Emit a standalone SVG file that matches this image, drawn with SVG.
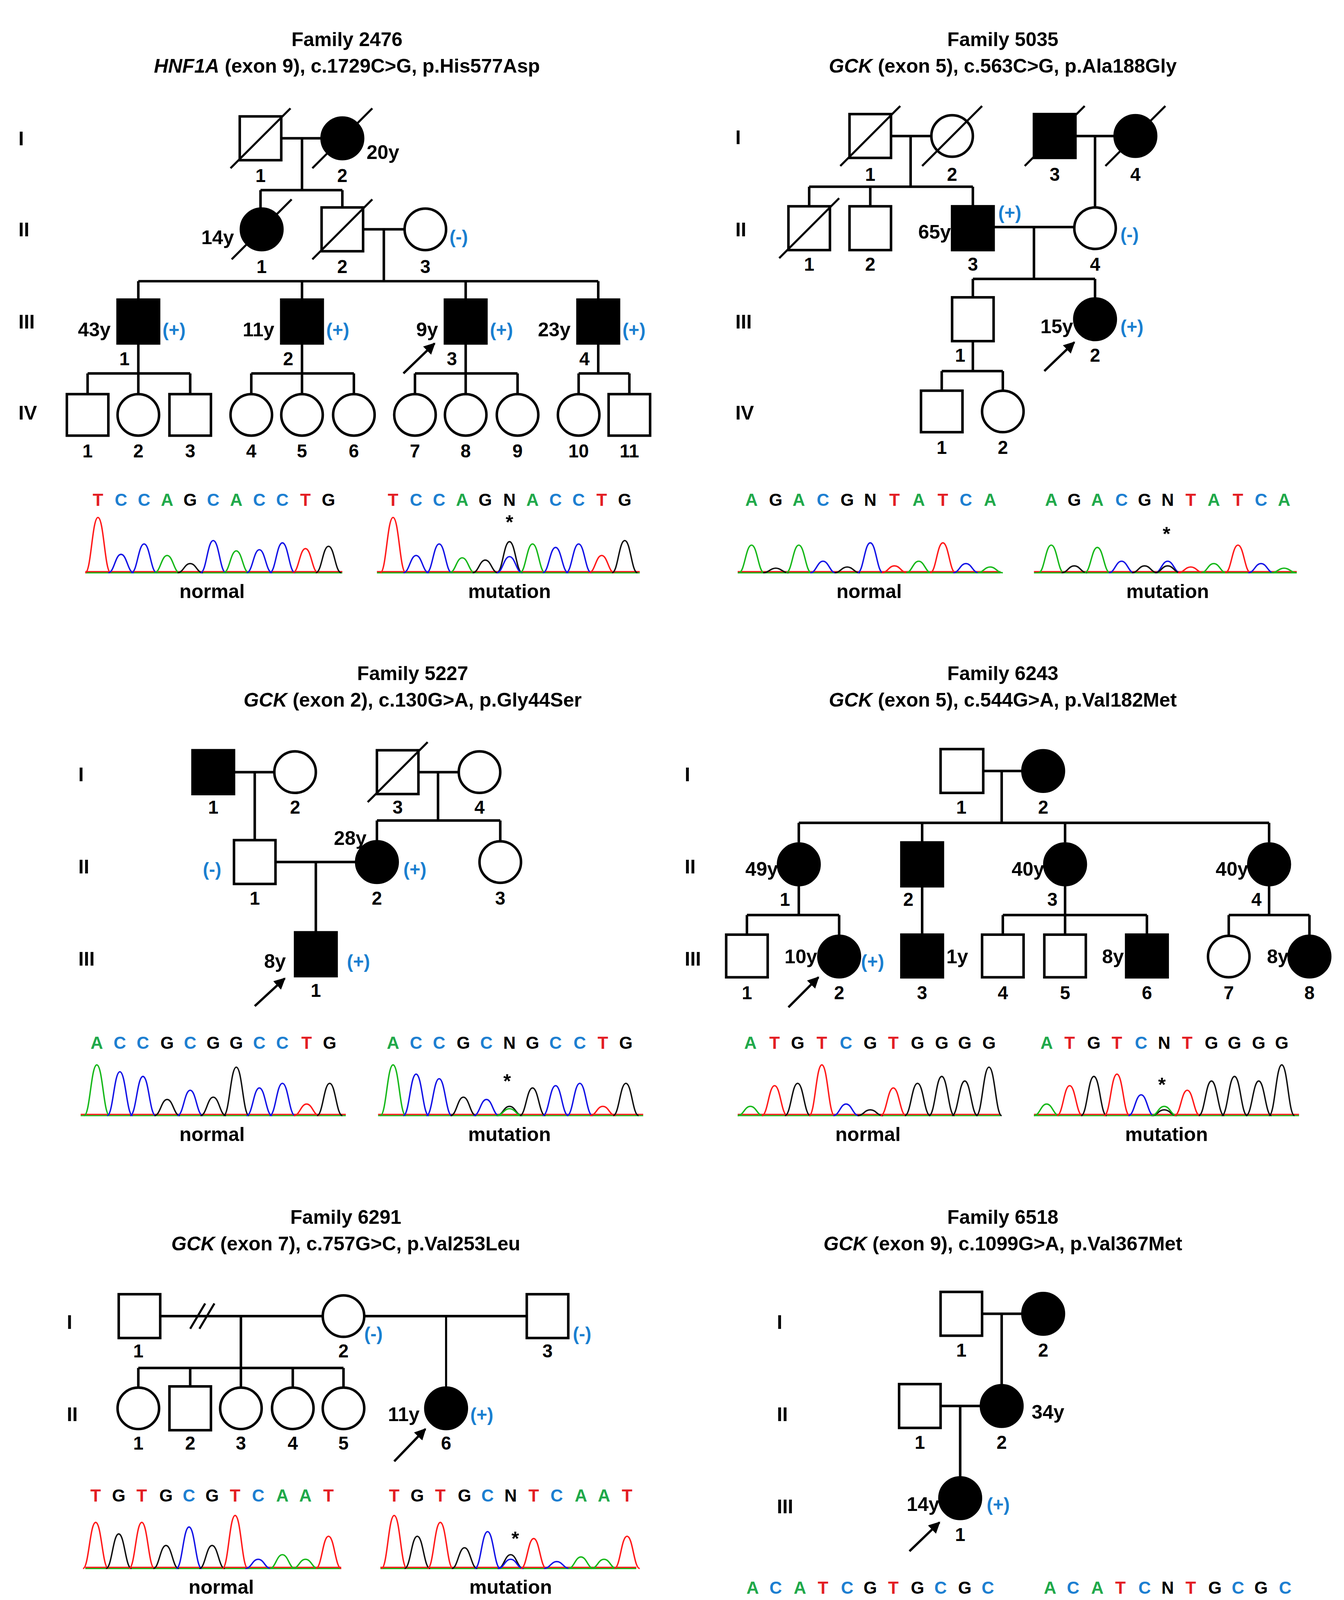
<svg xmlns="http://www.w3.org/2000/svg" xmlns:xlink="http://www.w3.org/1999/xlink" width="3440" height="4632" viewBox="0 0 3440 4632">
<style>
text{font-family:"Liberation Sans",Arial,sans-serif;font-weight:bold;fill:#000}
.t{font-size:17px;text-anchor:middle}
.g{font-size:17px}
.n{font-size:16px;text-anchor:middle}
.a{font-size:17px;text-anchor:end}
.s{font-size:16px;fill:#1a7fd0}
.lb{font-size:17px;text-anchor:middle}
.sym{fill:#fff;stroke:#000;stroke-width:2.2}
.aff{fill:#000;stroke:#000;stroke-width:2.2}
.ln{fill:none;stroke:#000;stroke-width:2.2}
.sl{stroke:#000;stroke-width:1.8}
.ar{stroke:#000;stroke-width:2;marker-end:url(#ah)}
.seq{font-size:15px;text-anchor:middle}
.T{fill:#e31e24}.C{fill:#1d7fd1}.A{fill:#20a94a}.G{fill:#000}
use.r,line.r{stroke:#ff1a1a}use.b,line.b{stroke:#1414e6}use.gr,line.gr{stroke:#17b81a}use.k,line.k{stroke:#111}
.bl{stroke-width:1.1}
</style>
<defs>
<marker id="ah" viewBox="0 0 10 10" refX="9" refY="5" markerWidth="5" markerHeight="5" orient="auto"><path d="M0,0 L10,5 L0,10 z" fill="#000"/></marker>
<path id="p" d="M-11,0 C-6,0 -5,-1 0,-1 C5,-1 6,0 11,0" fill="none" stroke-width="3.6" vector-effect="non-scaling-stroke"/>
</defs>
<rect width="3440" height="4632" fill="#fff"/>
<g transform="scale(2.9503)">

<!-- ================= Family 2476 ================= -->
<text class="t" x="301" y="40">Family 2476</text>
<text class="t" x="301" y="63"><tspan font-style="italic">HNF1A</tspan> (exon 9), c.1729C&gt;G, p.His577Asp</text>
<text class="g" x="16" y="126">I</text><text class="g" x="16" y="205">II</text><text class="g" x="16" y="285">III</text><text class="g" x="16" y="364">IV</text>
<g id="f2476-connectors">
<path class="ln" d="M244,120H279M262,120V165M226,165H297M226,165V181M297,165V181M315,199H351M333,199V244M120,244H519M120,244V260M262,244V260M404,244V260M519,244V260"/>
<path class="ln" d="M120,298V324M76,324H165M76,324V342M120,324V342M165,324V342M262,298V324M218,324H307M218,324V342M262,324V342M307,324V342M404,298V324M360,324H449M360,324V342M404,324V342M449,324V342M519,298V324M502,324H546M502,324V342M546,324V342"/>
<line class="ar" x1="350" y1="324" x2="377" y2="298"/>
</g>
<g id="f2476-I1"><rect class="sym" x="208" y="101" width="36" height="38"/><line class="sl" x1="200" y1="146" x2="252" y2="94"/><text class="n" x="226" y="158">1</text></g>
<g id="f2476-I2"><circle class="aff" cx="297" cy="120" r="18"/><line class="sl" x1="271" y1="146" x2="323" y2="94"/><text class="n" x="297" y="158">2</text><text class="g" x="318" y="138">20y</text></g>
<g id="f2476-II1"><circle class="aff" cx="227" cy="199" r="18"/><line class="sl" x1="201" y1="225" x2="253" y2="173"/><text class="n" x="227" y="237">1</text><text class="a" x="203" y="212">14y</text></g>
<g id="f2476-II2"><rect class="sym" x="279" y="180" width="36" height="38"/><line class="sl" x1="271" y1="225" x2="323" y2="173"/><text class="n" x="297" y="237">2</text></g>
<g id="f2476-II3"><circle class="sym" cx="369" cy="199" r="18"/><text class="n" x="369" y="237">3</text><text class="s" x="390" y="211">(-)</text></g>
<g id="f2476-III1"><rect class="aff" x="102" y="260" width="36" height="38"/><text class="a" x="96" y="292">43y</text><text class="s" x="141" y="292">(+)</text><text class="n" x="108" y="317">1</text></g>
<g id="f2476-III2"><rect class="aff" x="244" y="260" width="36" height="38"/><text class="a" x="238" y="292">11y</text><text class="s" x="283" y="292">(+)</text><text class="n" x="250" y="317">2</text></g>
<g id="f2476-III3"><rect class="aff" x="386" y="260" width="36" height="38"/><text class="a" x="380" y="292">9y</text><text class="s" x="425" y="292">(+)</text><text class="n" x="392" y="317">3</text></g>
<g id="f2476-III4"><rect class="aff" x="501" y="260" width="36" height="38"/><text class="a" x="495" y="292">23y</text><text class="s" x="540" y="292">(+)</text><text class="n" x="507" y="317">4</text></g>
<g id="f2476-IV">
<rect class="sym" x="58" y="342" width="36" height="36"/><circle class="sym" cx="120" cy="360" r="18"/><rect class="sym" x="147" y="342" width="36" height="36"/>
<circle class="sym" cx="218" cy="360" r="18"/><circle class="sym" cx="262" cy="360" r="18"/><circle class="sym" cx="307" cy="360" r="18"/>
<circle class="sym" cx="360" cy="360" r="18"/><circle class="sym" cx="404" cy="360" r="18"/><circle class="sym" cx="449" cy="360" r="18"/>
<circle class="sym" cx="502" cy="360" r="18"/><rect class="sym" x="528" y="342" width="36" height="36"/>
<text class="n" y="397"><tspan x="76">1</tspan><tspan x="120">2</tspan><tspan x="165">3</tspan><tspan x="218">4</tspan><tspan x="262">5</tspan><tspan x="307">6</tspan><tspan x="360">7</tspan><tspan x="404">8</tspan><tspan x="449">9</tspan><tspan x="502">10</tspan><tspan x="546">11</tspan></text>
</g>
<g id="f2476-chrom-normal">
<text class="seq" y="439"><tspan class="T" x="85">T</tspan><tspan class="C" x="105">C</tspan><tspan class="C" x="125">C</tspan><tspan class="A" x="145">A</tspan><tspan class="G" x="165">G</tspan><tspan class="C" x="185">C</tspan><tspan class="A" x="205">A</tspan><tspan class="C" x="225">C</tspan><tspan class="C" x="245">C</tspan><tspan class="T" x="265">T</tspan><tspan class="G" x="285">G</tspan></text>
<line class="gr bl" x1="74" y1="497" x2="297" y2="497"/><line class="r bl" x1="74" y1="496" x2="297" y2="496"/>
<use href="#p" class="r" transform="translate(85,497) scale(1,48)"/><use href="#p" class="b" transform="translate(105,497) scale(1,16)"/><use href="#p" class="b" transform="translate(125,497) scale(1,25)"/><use href="#p" class="gr" transform="translate(145,497) scale(1,15)"/><use href="#p" class="k" transform="translate(165,497) scale(1,8)"/><use href="#p" class="b" transform="translate(185,497) scale(1,28)"/><use href="#p" class="gr" transform="translate(205,497) scale(1,19)"/><use href="#p" class="b" transform="translate(225,497) scale(1,20)"/><use href="#p" class="b" transform="translate(245,497) scale(1,26)"/><use href="#p" class="r" transform="translate(265,497) scale(1,21)"/><use href="#p" class="k" transform="translate(285,497) scale(1,23)"/>
<text class="lb" x="184" y="519">normal</text>
</g>
<g id="f2476-chrom-mutation">
<text class="seq" y="439"><tspan class="T" x="341">T</tspan><tspan class="C" x="361">C</tspan><tspan class="C" x="381">C</tspan><tspan class="A" x="401">A</tspan><tspan class="G" x="421">G</tspan><tspan class="G" x="442">N</tspan><tspan class="A" x="462">A</tspan><tspan class="C" x="482">C</tspan><tspan class="C" x="502">C</tspan><tspan class="T" x="522">T</tspan><tspan class="G" x="542">G</tspan></text>
<line class="gr bl" x1="327" y1="497" x2="555" y2="497"/><line class="r bl" x1="327" y1="496" x2="555" y2="496"/>
<use href="#p" class="r" transform="translate(341,497) scale(1,48)"/><use href="#p" class="b" transform="translate(361,497) scale(1,15)"/><use href="#p" class="b" transform="translate(381,497) scale(1,25)"/><use href="#p" class="gr" transform="translate(401,497) scale(1,13)"/><use href="#p" class="k" transform="translate(421,497) scale(1,11)"/><use href="#p" class="k" transform="translate(442,497) scale(1,27)"/><use href="#p" class="b" transform="translate(442,497) scale(1,14)"/><use href="#p" class="gr" transform="translate(462,497) scale(1,25)"/><use href="#p" class="b" transform="translate(482,497) scale(1,22)"/><use href="#p" class="b" transform="translate(502,497) scale(1,25)"/><use href="#p" class="r" transform="translate(522,497) scale(1,15)"/><use href="#p" class="k" transform="translate(542,497) scale(1,28)"/>
<text class="lb" x="442" y="459">*</text>
<text class="lb" x="442" y="519">mutation</text>
</g>

<!-- ================= Family 5035 ================= -->
<text class="t" x="870" y="40">Family 5035</text>
<text class="t" x="870" y="63"><tspan font-style="italic">GCK</tspan> (exon 5), c.563C&gt;G, p.Ala188Gly</text>
<text class="g" x="638" y="125">I</text><text class="g" x="638" y="205">II</text><text class="g" x="638" y="285">III</text><text class="g" x="638" y="364">IV</text>
<g id="f5035-connectors">
<path class="ln" d="M773,118H808M790,118V162M702,162H844M702,162V179M755,162V179M844,162V179M933,118H967M950,118V180M862,197H932M897,197V242M844,242H950M844,242V258M950,242V259M844,296V322M817,322H870M817,322V339M870,322V339"/>
<line class="ar" x1="906" y1="322" x2="932" y2="297"/>
</g>
<g id="f5035-I1"><rect class="sym" x="737" y="99" width="36" height="38"/><line class="sl" x1="729" y1="144" x2="781" y2="92"/><text class="n" x="755" y="157">1</text></g>
<g id="f5035-I2"><circle class="sym" cx="826" cy="118" r="18"/><line class="sl" x1="800" y1="144" x2="852" y2="92"/><text class="n" x="826" y="157">2</text></g>
<g id="f5035-I3"><rect class="aff" x="897" y="99" width="36" height="38"/><line class="sl" x1="889" y1="144" x2="941" y2="92"/><text class="n" x="915" y="157">3</text></g>
<g id="f5035-I4"><circle class="aff" cx="985" cy="118" r="18"/><line class="sl" x1="959" y1="144" x2="1011" y2="92"/><text class="n" x="985" y="157">4</text></g>
<g id="f5035-II1"><rect class="sym" x="684" y="179" width="36" height="38"/><line class="sl" x1="676" y1="224" x2="728" y2="172"/><text class="n" x="702" y="235">1</text></g>
<g id="f5035-II2"><rect class="sym" x="737" y="179" width="36" height="38"/><text class="n" x="755" y="235">2</text></g>
<g id="f5035-II3"><rect class="aff" x="826" y="179" width="36" height="38"/><text class="a" x="825" y="207">65y</text><text class="s" x="866" y="190">(+)</text><text class="n" x="844" y="235">3</text></g>
<g id="f5035-II4"><circle class="sym" cx="950" cy="198" r="18"/><text class="s" x="972" y="209">(-)</text><text class="n" x="950" y="235">4</text></g>
<g id="f5035-III1"><rect class="sym" x="826" y="258" width="36" height="38"/><text class="n" x="833" y="314">1</text></g>
<g id="f5035-III2"><circle class="aff" cx="950" cy="277" r="18"/><text class="a" x="931" y="289">15y</text><text class="s" x="972" y="289">(+)</text><text class="n" x="950" y="314">2</text></g>
<g id="f5035-IV"><rect class="sym" x="799" y="339" width="36" height="36"/><circle class="sym" cx="870" cy="357" r="18"/><text class="n" x="817" y="394">1</text><text class="n" x="870" y="394">2</text></g>
<g id="f5035-chrom-normal">
<text class="seq" y="439"><tspan class="A" x="652">A</tspan><tspan class="G" x="673">G</tspan><tspan class="A" x="693">A</tspan><tspan class="C" x="714">C</tspan><tspan class="G" x="735">G</tspan><tspan class="G" x="755">N</tspan><tspan class="T" x="776">T</tspan><tspan class="A" x="797">A</tspan><tspan class="T" x="818">T</tspan><tspan class="C" x="838">C</tspan><tspan class="A" x="859">A</tspan></text>
<line class="gr bl" x1="640" y1="497" x2="868" y2="497"/><line class="r bl" x1="640" y1="496" x2="868" y2="496"/>
<use href="#p" class="gr" transform="translate(652,497) scale(1,24)"/><use href="#p" class="k" transform="translate(673,497) scale(1,4)"/><use href="#p" class="gr" transform="translate(693,497) scale(1,24)"/><use href="#p" class="b" transform="translate(714,497) scale(1,10)"/><use href="#p" class="k" transform="translate(735,497) scale(1,5)"/><use href="#p" class="b" transform="translate(755,497) scale(1,26)"/><use href="#p" class="r" transform="translate(776,497) scale(1,6)"/><use href="#p" class="gr" transform="translate(797,497) scale(1,10)"/><use href="#p" class="r" transform="translate(818,497) scale(1,26)"/><use href="#p" class="b" transform="translate(838,497) scale(1,8)"/><use href="#p" class="gr" transform="translate(859,497) scale(1,5)"/>
<text class="lb" x="754" y="519">normal</text>
</g>
<g id="f5035-chrom-mutation">
<text class="seq" y="439"><tspan class="A" x="912">A</tspan><tspan class="G" x="932">G</tspan><tspan class="A" x="952">A</tspan><tspan class="C" x="973">C</tspan><tspan class="G" x="993">G</tspan><tspan class="G" x="1013">N</tspan><tspan class="T" x="1033">T</tspan><tspan class="A" x="1053">A</tspan><tspan class="T" x="1074">T</tspan><tspan class="C" x="1094">C</tspan><tspan class="A" x="1114">A</tspan></text>
<line class="gr bl" x1="897" y1="497" x2="1125" y2="497"/><line class="r bl" x1="897" y1="496" x2="1125" y2="496"/>
<use href="#p" class="gr" transform="translate(912,497) scale(1,24)"/><use href="#p" class="k" transform="translate(932,497) scale(1,6)"/><use href="#p" class="gr" transform="translate(952,497) scale(1,22)"/><use href="#p" class="b" transform="translate(973,497) scale(1,10)"/><use href="#p" class="k" transform="translate(993,497) scale(1,6)"/><use href="#p" class="b" transform="translate(1013,497) scale(1,10)"/><use href="#p" class="k" transform="translate(1013,497) scale(1,6)"/><use href="#p" class="r" transform="translate(1033,497) scale(1,5)"/><use href="#p" class="gr" transform="translate(1053,497) scale(1,8)"/><use href="#p" class="r" transform="translate(1074,497) scale(1,24)"/><use href="#p" class="b" transform="translate(1094,497) scale(1,8)"/><use href="#p" class="gr" transform="translate(1114,497) scale(1,4)"/>
<text class="lb" x="1012" y="469">*</text>
<text class="lb" x="1013" y="519">mutation</text>
</g>

<!-- ================= Family 5227 ================= -->
<text class="t" x="358" y="590">Family 5227</text>
<text class="t" x="358" y="613"><tspan font-style="italic">GCK</tspan> (exon 2), c.130G&gt;A, p.Gly44Ser</text>
<text class="g" x="68" y="678">I</text><text class="g" x="68" y="758">II</text><text class="g" x="68" y="838">III</text>
<g id="f5227-connectors">
<path class="ln" d="M203,670H238M221,670V729M363,670H398M380,670V712M327,712H434M327,712V730M434,712V730M239,748H309M274,748V809"/>
<line class="ar" x1="221" y1="873" x2="247" y2="849"/>
</g>
<g id="f5227-I1"><rect class="aff" x="167" y="651" width="36" height="38"/><text class="n" x="185" y="706">1</text></g>
<g id="f5227-I2"><circle class="sym" cx="256" cy="670" r="18"/><text class="n" x="256" y="706">2</text></g>
<g id="f5227-I3"><rect class="sym" x="327" y="651" width="36" height="38"/><line class="sl" x1="319" y1="696" x2="371" y2="644"/><text class="n" x="345" y="706">3</text></g>
<g id="f5227-I4"><circle class="sym" cx="416" cy="670" r="18"/><text class="n" x="416" y="706">4</text></g>
<g id="f5227-II1"><rect class="sym" x="203" y="729" width="36" height="38"/><text class="s" x="176" y="760">(-)</text><text class="n" x="221" y="785">1</text></g>
<g id="f5227-II2"><circle class="aff" cx="327" cy="748" r="18"/><text class="a" x="318" y="733">28y</text><text class="s" x="350" y="760">(+)</text><text class="n" x="327" y="785">2</text></g>
<g id="f5227-II3"><circle class="sym" cx="434" cy="748" r="18"/><text class="n" x="434" y="785">3</text></g>
<g id="f5227-III1"><rect class="aff" x="256" y="809" width="36" height="38"/><text class="a" x="248" y="840">8y</text><text class="s" x="301" y="840">(+)</text><text class="n" x="274" y="865">1</text></g>
<g id="f5227-chrom-normal">
<text class="seq" y="910"><tspan class="A" x="84">A</tspan><tspan class="C" x="104">C</tspan><tspan class="C" x="124">C</tspan><tspan class="G" x="145">G</tspan><tspan class="C" x="165">C</tspan><tspan class="G" x="185">G</tspan><tspan class="G" x="205">G</tspan><tspan class="C" x="225">C</tspan><tspan class="C" x="245">C</tspan><tspan class="T" x="266">T</tspan><tspan class="G" x="286">G</tspan></text>
<line class="gr bl" x1="70" y1="968" x2="300" y2="968"/><line class="r bl" x1="70" y1="967" x2="300" y2="967"/>
<use href="#p" class="gr" transform="translate(84,968) scale(1,44)"/><use href="#p" class="b" transform="translate(104,968) scale(1,38)"/><use href="#p" class="b" transform="translate(124,968) scale(1,34)"/><use href="#p" class="k" transform="translate(145,968) scale(1,14)"/><use href="#p" class="b" transform="translate(165,968) scale(1,22)"/><use href="#p" class="k" transform="translate(185,968) scale(1,16)"/><use href="#p" class="k" transform="translate(205,968) scale(1,42)"/><use href="#p" class="b" transform="translate(225,968) scale(1,24)"/><use href="#p" class="b" transform="translate(245,968) scale(1,28)"/><use href="#p" class="r" transform="translate(266,968) scale(1,10)"/><use href="#p" class="k" transform="translate(286,968) scale(1,28)"/>
<text class="lb" x="184" y="990">normal</text>
</g>
<g id="f5227-chrom-mutation">
<text class="seq" y="910"><tspan class="A" x="341">A</tspan><tspan class="C" x="361">C</tspan><tspan class="C" x="381">C</tspan><tspan class="G" x="402">G</tspan><tspan class="C" x="422">C</tspan><tspan class="G" x="442">N</tspan><tspan class="G" x="462">G</tspan><tspan class="C" x="482">C</tspan><tspan class="C" x="503">C</tspan><tspan class="T" x="523">T</tspan><tspan class="G" x="543">G</tspan></text>
<line class="gr bl" x1="328" y1="968" x2="558" y2="968"/><line class="r bl" x1="328" y1="967" x2="558" y2="967"/>
<use href="#p" class="gr" transform="translate(341,968) scale(1,44)"/><use href="#p" class="b" transform="translate(361,968) scale(1,36)"/><use href="#p" class="b" transform="translate(381,968) scale(1,32)"/><use href="#p" class="k" transform="translate(402,968) scale(1,16)"/><use href="#p" class="b" transform="translate(422,968) scale(1,14)"/><use href="#p" class="k" transform="translate(442,968) scale(1,8)"/><use href="#p" class="gr" transform="translate(442,968) scale(1,6)"/><use href="#p" class="k" transform="translate(462,968) scale(1,24)"/><use href="#p" class="b" transform="translate(482,968) scale(1,26)"/><use href="#p" class="b" transform="translate(503,968) scale(1,28)"/><use href="#p" class="r" transform="translate(523,968) scale(1,8)"/><use href="#p" class="k" transform="translate(543,968) scale(1,28)"/>
<text class="lb" x="440" y="944">*</text>
<text class="lb" x="442" y="990">mutation</text>
</g>

<!-- ================= Family 6243 ================= -->
<text class="t" x="870" y="590">Family 6243</text>
<text class="t" x="870" y="613"><tspan font-style="italic">GCK</tspan> (exon 5), c.544G&gt;A, p.Val182Met</text>
<text class="g" x="594" y="678">I</text><text class="g" x="594" y="758">II</text><text class="g" x="594" y="838">III</text>
<g id="f6243-connectors">
<path class="ln" d="M853,669H887M869,669V714M693,714H1101M693,714V731M800,714V731M924,714V731M1101,714V731M693,768V794M648,794H728M648,794V811M728,794V812M800,769V811M924,768V794M870,794H995M870,794V811M924,794V811M995,794V811M1101,768V794M1066,794H1136M1066,794V812M1136,794V812"/>
<line class="ar" x1="684" y1="874" x2="710" y2="848"/>
</g>
<g id="f6243-I1"><rect class="sym" x="816" y="650" width="37" height="38"/><text class="n" x="834" y="706">1</text></g>
<g id="f6243-I2"><circle class="aff" cx="905" cy="669" r="18"/><text class="n" x="905" y="706">2</text></g>
<g id="f6243-II1"><circle class="aff" cx="693" cy="750" r="18"/><text class="a" x="675" y="760">49y</text><text class="n" x="681" y="786">1</text></g>
<g id="f6243-II2"><rect class="aff" x="782" y="731" width="36" height="38"/><text class="n" x="788" y="786">2</text></g>
<g id="f6243-II3"><circle class="aff" cx="924" cy="750" r="18"/><text class="a" x="906" y="760">40y</text><text class="n" x="913" y="786">3</text></g>
<g id="f6243-II4"><circle class="aff" cx="1101" cy="750" r="18"/><text class="a" x="1083" y="760">40y</text><text class="n" x="1090" y="786">4</text></g>
<g id="f6243-III1"><rect class="sym" x="630" y="811" width="36" height="37"/><text class="n" x="648" y="867">1</text></g>
<g id="f6243-III2"><circle class="aff" cx="728" cy="830" r="18"/><text class="a" x="709" y="836">10y</text><text class="s" x="747" y="840">(+)</text><text class="n" x="728" y="867">2</text></g>
<g id="f6243-III3"><rect class="aff" x="782" y="811" width="36" height="37"/><text class="g" x="821" y="836">1y</text><text class="n" x="800" y="867">3</text></g>
<g id="f6243-III4"><rect class="sym" x="852" y="811" width="36" height="37"/><text class="n" x="870" y="867">4</text></g>
<g id="f6243-III5"><rect class="sym" x="906" y="811" width="36" height="37"/><text class="n" x="924" y="867">5</text></g>
<g id="f6243-III6"><rect class="aff" x="977" y="811" width="36" height="37"/><text class="a" x="975" y="836">8y</text><text class="n" x="995" y="867">6</text></g>
<g id="f6243-III7"><circle class="sym" cx="1066" cy="830" r="18"/><text class="n" x="1066" y="867">7</text></g>
<g id="f6243-III8"><circle class="aff" cx="1136" cy="830" r="18"/><text class="a" x="1118" y="836">8y</text><text class="n" x="1136" y="867">8</text></g>
<g id="f6243-chrom-normal">
<text class="seq" y="910"><tspan class="A" x="651">A</tspan><tspan class="T" x="672">T</tspan><tspan class="G" x="692">G</tspan><tspan class="T" x="713">T</tspan><tspan class="C" x="734">C</tspan><tspan class="G" x="755">G</tspan><tspan class="T" x="775">T</tspan><tspan class="G" x="796">G</tspan><tspan class="G" x="817">G</tspan><tspan class="G" x="837">G</tspan><tspan class="G" x="858">G</tspan></text>
<line class="gr bl" x1="640" y1="968" x2="868" y2="968"/><line class="r bl" x1="640" y1="967" x2="868" y2="967"/>
<use href="#p" class="gr" transform="translate(651,968) scale(1,8)"/><use href="#p" class="r" transform="translate(672,968) scale(1,26)"/><use href="#p" class="k" transform="translate(692,968) scale(1,28)"/><use href="#p" class="r" transform="translate(713,968) scale(1,44)"/><use href="#p" class="b" transform="translate(734,968) scale(1,10)"/><use href="#p" class="k" transform="translate(755,968) scale(1,5)"/><use href="#p" class="r" transform="translate(775,968) scale(1,24)"/><use href="#p" class="k" transform="translate(796,968) scale(1,28)"/><use href="#p" class="k" transform="translate(817,968) scale(1,34)"/><use href="#p" class="k" transform="translate(837,968) scale(1,30)"/><use href="#p" class="k" transform="translate(858,968) scale(1,42)"/>
<text class="lb" x="753" y="990">normal</text>
</g>
<g id="f6243-chrom-mutation">
<text class="seq" y="910"><tspan class="A" x="908">A</tspan><tspan class="T" x="928">T</tspan><tspan class="G" x="949">G</tspan><tspan class="T" x="969">T</tspan><tspan class="C" x="990">C</tspan><tspan class="G" x="1010">N</tspan><tspan class="T" x="1030">T</tspan><tspan class="G" x="1051">G</tspan><tspan class="G" x="1071">G</tspan><tspan class="G" x="1092">G</tspan><tspan class="G" x="1112">G</tspan></text>
<line class="gr bl" x1="897" y1="968" x2="1127" y2="968"/><line class="r bl" x1="897" y1="967" x2="1127" y2="967"/>
<use href="#p" class="gr" transform="translate(908,968) scale(1,10)"/><use href="#p" class="r" transform="translate(928,968) scale(1,26)"/><use href="#p" class="k" transform="translate(949,968) scale(1,34)"/><use href="#p" class="r" transform="translate(969,968) scale(1,36)"/><use href="#p" class="b" transform="translate(990,968) scale(1,18)"/><use href="#p" class="k" transform="translate(1010,968) scale(1,5)"/><use href="#p" class="gr" transform="translate(1010,968) scale(1,8)"/><use href="#p" class="r" transform="translate(1030,968) scale(1,22)"/><use href="#p" class="k" transform="translate(1051,968) scale(1,30)"/><use href="#p" class="k" transform="translate(1071,968) scale(1,34)"/><use href="#p" class="k" transform="translate(1092,968) scale(1,30)"/><use href="#p" class="k" transform="translate(1112,968) scale(1,44)"/>
<text class="lb" x="1008" y="947">*</text>
<text class="lb" x="1012" y="990">mutation</text>
</g>

<!-- ================= Family 6291 ================= -->
<text class="t" x="300" y="1062">Family 6291</text>
<text class="t" x="300" y="1085"><tspan font-style="italic">GCK</tspan> (exon 7), c.757G&gt;C, p.Val253Leu</text>
<text class="g" x="58" y="1153">I</text><text class="g" x="58" y="1233">II</text>
<g id="f6291-connectors">
<path class="ln" d="M139,1142H280M316,1142H457M209,1142V1187M120,1187H298M120,1187V1204M165,1187V1203M209,1187V1204M254,1187V1204M298,1187V1204"/>
<path class="sl" d="M387,1142V1204M165,1153L178,1131M173,1153L186,1131" fill="none"/>
<line class="ar" x1="342" y1="1268" x2="369" y2="1240"/>
</g>
<g id="f6291-I1"><rect class="sym" x="103" y="1123" width="36" height="38"/><text class="n" x="120" y="1178">1</text></g>
<g id="f6291-I2"><circle class="sym" cx="298" cy="1142" r="18"/><text class="s" x="316" y="1163">(-)</text><text class="n" x="298" y="1178">2</text></g>
<g id="f6291-I3"><rect class="sym" x="457" y="1123" width="36" height="38"/><text class="s" x="497" y="1163">(-)</text><text class="n" x="475" y="1178">3</text></g>
<g id="f6291-II1to5">
<circle class="sym" cx="120" cy="1222" r="18"/><rect class="sym" x="147" y="1203" width="36" height="38"/><circle class="sym" cx="209" cy="1222" r="18"/><circle class="sym" cx="254" cy="1222" r="18"/><circle class="sym" cx="298" cy="1222" r="18"/>
<text class="n" y="1258"><tspan x="120">1</tspan><tspan x="165">2</tspan><tspan x="209">3</tspan><tspan x="254">4</tspan><tspan x="298">5</tspan></text>
</g>
<g id="f6291-II6"><circle class="aff" cx="387" cy="1222" r="18"/><text class="a" x="364" y="1233">11y</text><text class="s" x="408" y="1233">(+)</text><text class="n" x="387" y="1258">6</text></g>
<g id="f6291-chrom-normal">
<text class="seq" y="1303"><tspan class="T" x="83">T</tspan><tspan class="G" x="103">G</tspan><tspan class="T" x="123">T</tspan><tspan class="G" x="144">G</tspan><tspan class="C" x="164">C</tspan><tspan class="G" x="184">G</tspan><tspan class="T" x="204">T</tspan><tspan class="C" x="224">C</tspan><tspan class="A" x="245">A</tspan><tspan class="A" x="265">A</tspan><tspan class="T" x="285">T</tspan></text>
<line class="gr bl" x1="74" y1="1361" x2="296" y2="1361"/><line class="r bl" x1="74" y1="1360" x2="296" y2="1360"/>
<use href="#p" class="r" transform="translate(83,1361) scale(1,40)"/><use href="#p" class="k" transform="translate(103,1361) scale(1,30)"/><use href="#p" class="r" transform="translate(123,1361) scale(1,40)"/><use href="#p" class="k" transform="translate(144,1361) scale(1,20)"/><use href="#p" class="b" transform="translate(164,1361) scale(1,36)"/><use href="#p" class="k" transform="translate(184,1361) scale(1,20)"/><use href="#p" class="r" transform="translate(204,1361) scale(1,46)"/><use href="#p" class="b" transform="translate(224,1361) scale(1,8)"/><use href="#p" class="gr" transform="translate(245,1361) scale(1,12)"/><use href="#p" class="gr" transform="translate(265,1361) scale(1,8)"/><use href="#p" class="r" transform="translate(285,1361) scale(1,28)"/>
<text class="lb" x="192" y="1383">normal</text>
</g>
<g id="f6291-chrom-mutation">
<text class="seq" y="1303"><tspan class="T" x="342">T</tspan><tspan class="G" x="362">G</tspan><tspan class="T" x="382">T</tspan><tspan class="G" x="403">G</tspan><tspan class="C" x="423">C</tspan><tspan class="G" x="443">N</tspan><tspan class="T" x="463">T</tspan><tspan class="C" x="483">C</tspan><tspan class="A" x="504">A</tspan><tspan class="A" x="524">A</tspan><tspan class="T" x="544">T</tspan></text>
<line class="gr bl" x1="330" y1="1361" x2="552" y2="1361"/><line class="r bl" x1="330" y1="1360" x2="552" y2="1360"/>
<use href="#p" class="r" transform="translate(342,1361) scale(1,46)"/><use href="#p" class="k" transform="translate(362,1361) scale(1,28)"/><use href="#p" class="r" transform="translate(382,1361) scale(1,40)"/><use href="#p" class="k" transform="translate(403,1361) scale(1,18)"/><use href="#p" class="b" transform="translate(423,1361) scale(1,32)"/><use href="#p" class="k" transform="translate(443,1361) scale(1,12)"/><use href="#p" class="b" transform="translate(443,1361) scale(1,8)"/><use href="#p" class="r" transform="translate(463,1361) scale(1,26)"/><use href="#p" class="b" transform="translate(483,1361) scale(1,6)"/><use href="#p" class="gr" transform="translate(504,1361) scale(1,10)"/><use href="#p" class="gr" transform="translate(524,1361) scale(1,8)"/><use href="#p" class="r" transform="translate(544,1361) scale(1,28)"/>
<text class="lb" x="447" y="1341">*</text>
<text class="lb" x="443" y="1383">mutation</text>
</g>

<!-- ================= Family 6518 ================= -->
<text class="t" x="870" y="1062">Family 6518</text>
<text class="t" x="870" y="1085"><tspan font-style="italic">GCK</tspan> (exon 9), c.1099G&gt;A, p.Val367Met</text>
<text class="g" x="674" y="1153">I</text><text class="g" x="674" y="1233">II</text><text class="g" x="674" y="1313">III</text>
<g id="f6518-connectors">
<path class="ln" d="M852,1140H887M869,1140V1202M816,1220H851M833,1220V1282"/>
<line class="ar" x1="789" y1="1346" x2="815" y2="1321"/>
</g>
<g id="f6518-I1"><rect class="sym" x="816" y="1121" width="36" height="38"/><text class="n" x="834" y="1177">1</text></g>
<g id="f6518-I2"><circle class="aff" cx="905" cy="1140" r="18"/><text class="n" x="905" y="1177">2</text></g>
<g id="f6518-II1"><rect class="sym" x="780" y="1201" width="36" height="38"/><text class="n" x="798" y="1257">1</text></g>
<g id="f6518-II2"><circle class="aff" cx="869" cy="1220" r="18"/><text class="g" x="895" y="1231">34y</text><text class="n" x="869" y="1257">2</text></g>
<g id="f6518-III1"><circle class="aff" cx="833" cy="1300" r="18"/><text class="a" x="815" y="1311">14y</text><text class="s" x="856" y="1311">(+)</text><text class="n" x="833" y="1337">1</text></g>
<g id="f6518-chrom-normal">
<text class="seq" y="1383"><tspan class="A" x="653">A</tspan><tspan class="C" x="673">C</tspan><tspan class="A" x="694">A</tspan><tspan class="T" x="714">T</tspan><tspan class="C" x="735">C</tspan><tspan class="G" x="755">G</tspan><tspan class="T" x="775">T</tspan><tspan class="G" x="796">G</tspan><tspan class="C" x="816">C</tspan><tspan class="G" x="837">G</tspan><tspan class="C" x="857">C</tspan></text>
<line class="gr bl" x1="640" y1="1441" x2="868" y2="1441"/><line class="r bl" x1="640" y1="1440" x2="868" y2="1440"/>
<use href="#p" class="gr" transform="translate(653,1441) scale(1,24)"/><use href="#p" class="b" transform="translate(673,1441) scale(1,20)"/><use href="#p" class="gr" transform="translate(694,1441) scale(1,14)"/><use href="#p" class="r" transform="translate(714,1441) scale(1,46)"/><use href="#p" class="b" transform="translate(735,1441) scale(1,8)"/><use href="#p" class="k" transform="translate(755,1441) scale(1,8)"/><use href="#p" class="r" transform="translate(775,1441) scale(1,12)"/><use href="#p" class="k" transform="translate(796,1441) scale(1,34)"/><use href="#p" class="b" transform="translate(816,1441) scale(1,14)"/><use href="#p" class="k" transform="translate(837,1441) scale(1,10)"/><use href="#p" class="b" transform="translate(857,1441) scale(1,26)"/>
<text class="lb" x="752" y="1463">normal</text>
</g>
<g id="f6518-chrom-mutation">
<text class="seq" y="1383"><tspan class="A" x="911">A</tspan><tspan class="C" x="931">C</tspan><tspan class="A" x="952">A</tspan><tspan class="T" x="972">T</tspan><tspan class="C" x="993">C</tspan><tspan class="G" x="1013">N</tspan><tspan class="T" x="1033">T</tspan><tspan class="G" x="1054">G</tspan><tspan class="C" x="1074">C</tspan><tspan class="G" x="1094">G</tspan><tspan class="C" x="1115">C</tspan></text>
<line class="gr bl" x1="900" y1="1441" x2="1127" y2="1441"/><line class="r bl" x1="900" y1="1440" x2="1127" y2="1440"/>
<use href="#p" class="gr" transform="translate(911,1441) scale(1,26)"/><use href="#p" class="b" transform="translate(931,1441) scale(1,22)"/><use href="#p" class="gr" transform="translate(952,1441) scale(1,26)"/><use href="#p" class="r" transform="translate(972,1441) scale(1,36)"/><use href="#p" class="b" transform="translate(993,1441) scale(1,16)"/><use href="#p" class="b" transform="translate(1013,1441) scale(1,18)"/><use href="#p" class="k" transform="translate(1013,1441) scale(1,8)"/><use href="#p" class="r" transform="translate(1033,1441) scale(1,10)"/><use href="#p" class="k" transform="translate(1054,1441) scale(1,40)"/><use href="#p" class="b" transform="translate(1074,1441) scale(1,14)"/><use href="#p" class="k" transform="translate(1094,1441) scale(1,8)"/><use href="#p" class="b" transform="translate(1115,1441) scale(1,40)"/>
<text class="lb" x="1012" y="1413">*</text>
<text class="lb" x="1012" y="1463">mutation</text>
</g>

<text x="587" y="1545" style="font-family:'Liberation Serif',serif;font-size:18px;text-anchor:middle">(<tspan font-weight="bold">a</tspan>)</text>
</g>
</svg>
